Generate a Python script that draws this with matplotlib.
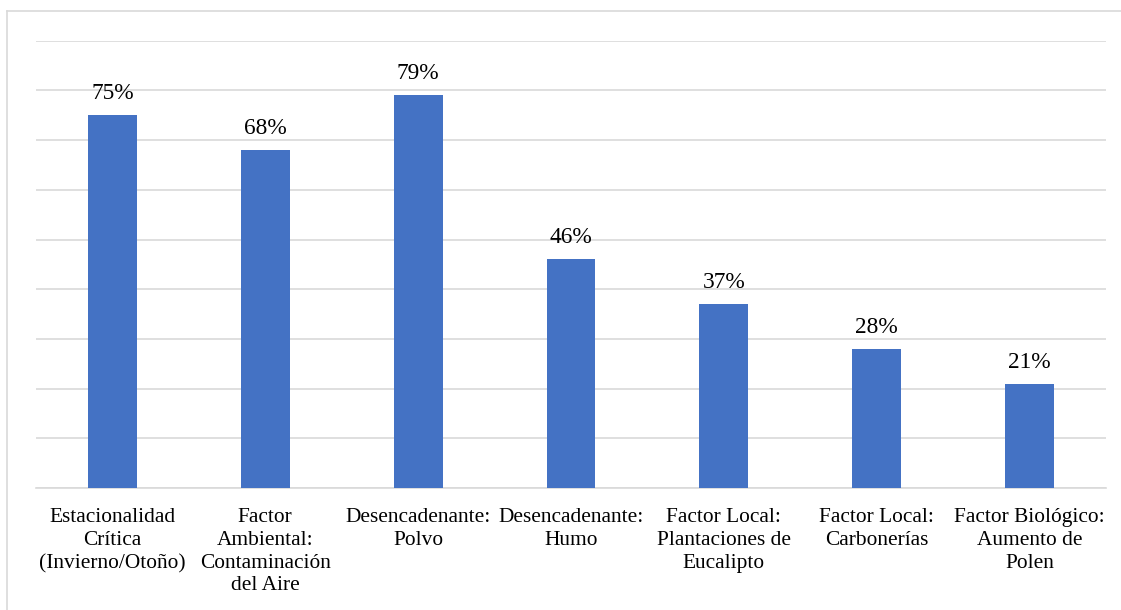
import matplotlib
matplotlib.use("Agg")
import matplotlib.pyplot as plt
from matplotlib.lines import Line2D

categories = [
    "Estacionalidad\nCrítica\n(Invierno/Otoño)",
    "Factor\nAmbiental:\nContaminación\ndel Aire",
    "Desencadenante:\nPolvo",
    "Desencadenante:\nHumo",
    "Factor Local:\nPlantaciones de\nEucalipto",
    "Factor Local:\nCarbonerías",
    "Factor Biológico:\nAumento de\nPolen",
]
values = [75, 68, 79, 46, 37, 28, 21]
value_labels = ["75%", "68%", "79%", "46%", "37%", "28%", "21%"]

plt.rcParams['font.family'] = ['Liberation Serif', 'DejaVu Serif']

W, H = 1121, 610
fig = plt.figure(figsize=(W / 100, H / 100), dpi=100)
ax = fig.add_axes([36 / W, 1 - 488 / H, (1106 - 36) / W, (488 - 40.7) / H])

x = list(range(len(categories)))
ax.bar(x, values, width=0.32, color="#4472C4", zorder=3)
ax.set_xlim(-0.5, len(categories) - 0.5)
ax.set_ylim(0, 90)
ax.set_yticks(range(0, 91, 10))
ax.yaxis.grid(True, color="#d9d9d9", linewidth=1.2, zorder=0)
ax.tick_params(axis='y', left=False, labelleft=False)
ax.tick_params(axis='x', bottom=False, pad=11, labelsize=15.4)
ax.set_xticks(x)
ax.set_xticklabels(categories, linespacing=1.27, color="#000000")
for s in ["top", "right", "left"]:
    ax.spines[s].set_visible(False)
ax.spines["bottom"].set_color("#d9d9d9")
ax.spines["bottom"].set_linewidth(1.2)

for i, (v, lab) in enumerate(zip(values, value_labels)):
    ax.annotate(lab, xy=(i, v), xytext=(0, 11.5), textcoords="offset points",
                ha="center", va="baseline", fontsize=16.8, color="#000000")

# outer chart border (left and top edges visible)
fig.add_artist(Line2D([6.5 / W, 6.5 / W], [0, 1 - 10.5 / H], transform=fig.transFigure,
                      color="#d9d9d9", linewidth=1.2))
fig.add_artist(Line2D([6.5 / W, 1], [1 - 10.5 / H, 1 - 10.5 / H], transform=fig.transFigure,
                      color="#d9d9d9", linewidth=1.2))

fig.savefig("out.png", dpi=100)
